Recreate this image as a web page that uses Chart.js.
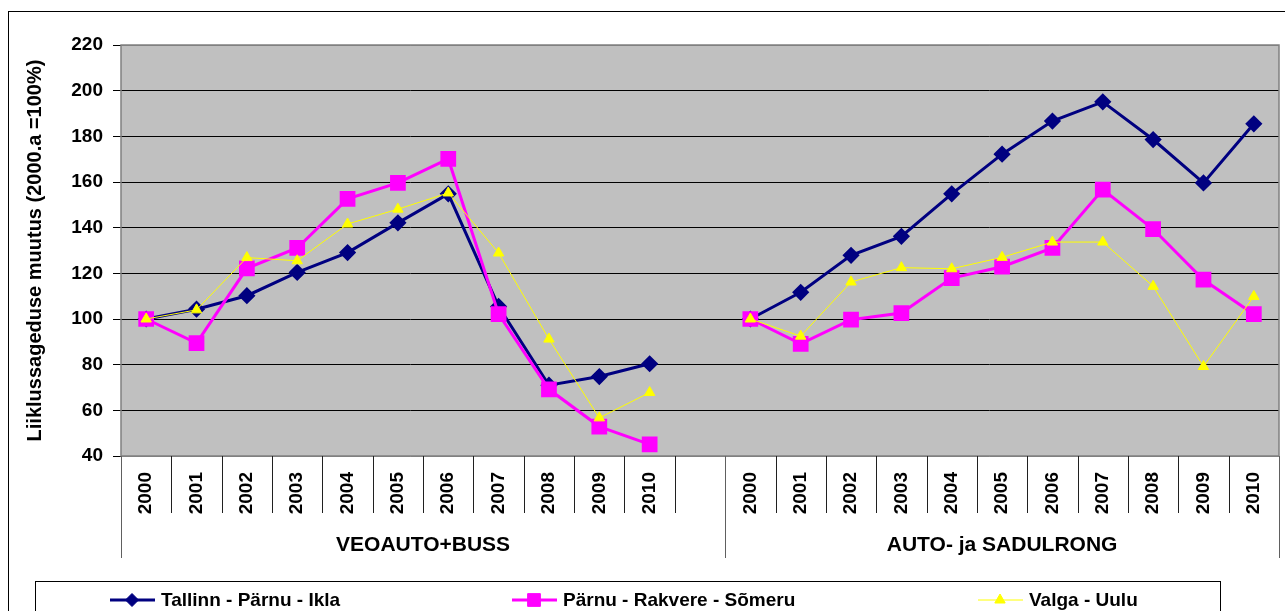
<!DOCTYPE html>
<html>
<head>
<meta charset="utf-8">
<script src="https://cdn.jsdelivr.net/npm/chart.js@4"></script>
<style>
  body { margin: 0; background: #fff; }
  canvas { display: block; }
</style>
</head>
<body>
<canvas id="graafik" width="1285" height="611"></canvas>
<script>
const aastad = ["2000", "2001", "2002", "2003", "2004", "2005", "2006", "2007", "2008", "2009", "2010"];
const grupid = ["VEOAUTO+BUSS", "AUTO- ja SADULRONG"];
const nimed = ["Tallinn - Pärnu - Ikla", "Pärnu - Rakvere - Sõmeru", "Valga - Uulu"];

// veoauto+buss
const tallinnVeo = [100, 104.3, 110.2, 120.4, 129.1, 142.1, 154.8, 105.5, 71, 74.8, 80.4];
const parnuVeo = [100, 89.4, 122.2, 131.1, 152.6, 159.6, 170.1, 102.1, 69.2, 52.9, 45.1];
const valgaVeo = [100, 104, 126.9, 125.5, 141.6, 148.1, 155.2, 128.9, 91.2, 56.7, 67.8];
// auto- ja sadulrong
const tallinnAuto = [100, 111.7, 127.9, 136.2, 154.8, 172.2, 186.7, 195.1, 178.6, 159.6, 185.5];
const parnuAuto = [100, 89.1, 99.7, 102.6, 117.9, 122.9, 131.1, 156.7, 139.4, 117.2, 102.1];
const valgaAuto = [100, 92.5, 116.2, 122.5, 122, 127, 133.7, 133.7, 114.3, 79.2, 109.9];

const yMin = 40, yMax = 220, ySamm = 20;

// one empty slot between the two groups
const sildid = [...aastad, "", ...aastad];
const tallinn = [...tallinnVeo, null, ...tallinnAuto];
const parnu = [...parnuVeo, null, ...parnuAuto];
const valga = [...valgaVeo, null, ...valgaAuto];

Chart.defaults.font.family = "'Liberation Sans', Arial, sans-serif";
Chart.defaults.color = "#000";

const taust = {
  id: "taust",
  beforeDraw(chart) {
    const c = chart.ctx, a = chart.chartArea;
    c.save();
    c.fillStyle = "#fff";
    c.fillRect(0, 0, chart.width, chart.height);
    c.strokeStyle = "#000";
    c.lineWidth = 1;
    c.strokeRect(8.5, 11.5, chart.width + 20, chart.height + 20);
    c.fillStyle = "#c0c0c0";
    c.fillRect(a.left, a.top, a.right - a.left, a.bottom - a.top);
    c.restore();
  },
  beforeDatasetsDraw(chart) {
    const c = chart.ctx, a = chart.chartArea;
    c.save();
    c.strokeStyle = "#808080";
    c.lineWidth = 1.5;
    c.strokeRect(a.left, a.top, a.right - a.left, a.bottom - a.top);
    c.restore();
  },
  afterDraw(chart) {
    const c = chart.ctx, x = chart.scales.x;
    const n = sildid.length;
    const samm = (x.right - x.left) / n;
    c.save();
    // separators under the axis
    for (let i = 0; i <= n; i++) {
      const px = Math.round(x.left + i * samm) + 0.5;
      const pikk = i === 0 || i === n || i === aastad.length + 1;
      c.strokeStyle = pikk ? "#606060" : "#202020";
      c.lineWidth = 1;
      c.beginPath();
      c.moveTo(px, x.top);
      c.lineTo(px, pikk ? x.top + 102 : x.top + 57);
      c.stroke();
    }
    // group labels
    c.font = "bold 21px 'Liberation Sans', Arial, sans-serif";
    c.fillStyle = "#000";
    c.textAlign = "center";
    c.textBaseline = "middle";
    const piirid = [0, aastad.length + 1, n];
    for (let g = 0; g < grupid.length; g++) {
      const x1 = x.left + piirid[g] * samm, x2 = x.left + piirid[g + 1] * samm;
      c.fillText(grupid[g], (x1 + x2) / 2, x.top + 89);
    }
    // legend
    c.strokeStyle = "#000";
    c.strokeRect(35.5, 581.5, 1185, 60);
    const kohad = [110, 512, 978];
    c.font = "bold 19px 'Liberation Sans', Arial, sans-serif";
    c.textAlign = "left";
    chart.data.datasets.forEach((ds, i) => {
      const lx = kohad[i], ly = 600;
      c.strokeStyle = ds.borderColor;
      c.lineWidth = ds.borderWidth;
      c.beginPath();
      c.moveTo(lx, ly);
      c.lineTo(lx + 45, ly);
      c.stroke();
      c.fillStyle = ds.backgroundColor;
      c.lineWidth = 1;
      Chart.helpers.drawPoint(c, { pointStyle: ds.pointStyle, radius: ds.pointRadius, borderWidth: 1 }, lx + 22, ly);
      c.fillStyle = "#000";
      c.fillText(ds.label, lx + 51, ly + 1);
    });
    c.restore();
  }
};

new Chart(document.getElementById("graafik"), {
  type: "line",
  data: {
    labels: sildid,
    datasets: [{
      label: nimed[0],
      data: tallinn,
      borderColor: "#000080",
      backgroundColor: "#000080",
      borderWidth: 3,
      pointStyle: "rectRot",
      pointRadius: 6.5,
      order: 3
    }, {
      label: nimed[1],
      data: parnu,
      borderColor: "#ff00ff",
      backgroundColor: "#ff00ff",
      borderWidth: 3,
      pointStyle: "rect",
      pointRadius: 9,
      order: 2
    }, {
      label: nimed[2],
      data: valga,
      borderColor: "#ffff00",
      backgroundColor: "#ffff00",
      borderWidth: 1,
      pointStyle: "triangle",
      pointRadius: 6,
      order: 1
    }]
  },
  options: {
    responsive: false,
    animation: false,
    layout: { autoPadding: false, padding: { top: 45, right: 6, left: 0, bottom: 0 } },
    plugins: {
      legend: { display: false },
      tooltip: { enabled: false }
    },
    scales: {
      x: {
        offset: true,
        grid: { display: false, drawTicks: false },
        border: { display: false },
        ticks: {
          autoSkip: false,
          minRotation: 90,
          maxRotation: 90,
          padding: 16,
          font: { size: 19, weight: "bold" }
        },
        afterFit(s) {
          s.height = 155;
          s.paddingLeft = 0;
          s.paddingRight = 0;
        }
      },
      y: {
        min: yMin,
        max: yMax,
        border: { display: false },
        grid: {
          color: (c) => (c.tick && (c.tick.value === yMin || c.tick.value === yMax)) ? "#808080" : "#000",
          tickLength: 8,
          tickColor: "#000"
        },
        ticks: {
          stepSize: ySamm,
          padding: 10,
          font: { size: 19, weight: "bold" }
        },
        title: {
          display: true,
          text: "Liiklussageduse muutus (2000.a =100%)",
          font: { size: 20, weight: "bold" },
          padding: { top: 23, bottom: 0 }
        },
        afterFit(s) { s.width = 121; }
      }
    }
  },
  plugins: [taust]
});
</script>
</body>
</html>
